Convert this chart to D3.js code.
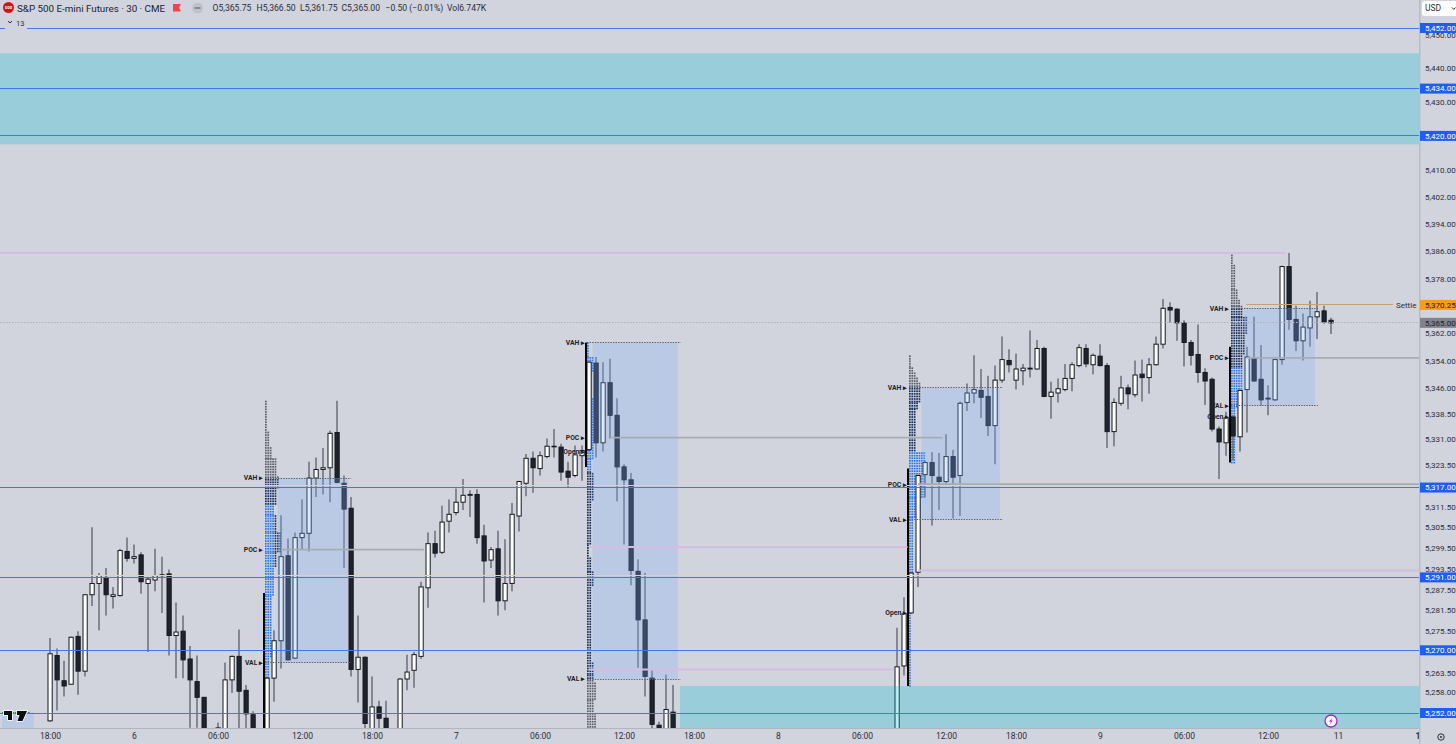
<!DOCTYPE html>
<html lang="en">
<head>
  <meta charset="utf-8">
  <title>S&amp;P 500 E-mini Futures 30m</title>
  <script src="https://d3js.org/d3.v7.min.js"></script>
  <style type="text/css">
    html, body { margin: 0; padding: 0; background: #d1d4dc; overflow: hidden; }
    svg { display: block; font-family: Roboto, "Liberation Sans", sans-serif; }
  </style>
</head>
<body>
  <script type="text/javascript">

// bars are [slot, open, high, low, close], one slot = one 30 minute bar
const session6 = [
  [0,5249.75,5273.5,5249.5,5269],[1,5268.5,5270.5,5252.75,5261.5],[2,5261.25,5267,5256.75,5259.75],
  [3,5260.25,5274,5260.25,5273.75],[4,5274,5275.5,5257.25,5264],[5,5264,5286,5262.5,5286],
  [6,5286,5305.5,5282.75,5289.25],[7,5289.25,5292.25,5275.75,5291.5],[8,5291,5293.75,5280,5286],
  [9,5285.5,5288.25,5282,5286],[10,5285.75,5299.25,5285.5,5298.75],[11,5298.5,5302.5,5295.5,5296.5],
  [12,5296.5,5300.5,5295,5297],[13,5297.5,5298.25,5286.25,5289.75],[14,5289.25,5291,5269.5,5290.5],
  [15,5290.25,5299.25,5287,5291.5],[16,5291.75,5297,5280.75,5291.5],[17,5292,5293.25,5268.5,5274.25],
  [18,5274.25,5283.75,5262,5275.25],[19,5275.5,5280,5262,5267.25],[20,5267.5,5271.25,5247.75,5261.5],
  [21,5261,5268.5,5247.75,5256.5],[22,5256.5,5256.5,5243,5246],[24,5245,5249.25,5243,5247.75],
  [25,5246,5266.5,5244,5261.5],[26,5261.5,5268.5,5257.75,5268.25],[27,5268.25,5276,5247,5258.25],
  [28,5258.5,5260,5247,5251.75],[29,5251.5,5252.5,5244,5246],[31,5246,5262.25,5244,5262],
  [32,5262,5275.75,5255.25,5272.75],[33,5272.75,5309,5264.75,5297],[34,5297.25,5302.25,5267,5267.25],
  [35,5267.75,5304,5267.5,5302.5],[36,5302.5,5313.5,5299,5303.75],[37,5303.75,5324.5,5298.5,5319.75],
  [38,5319.75,5325.75,5314.25,5322.25],[39,5322.25,5328.5,5315,5322.75],[40,5322.75,5333.5,5312.75,5332.75],
  [41,5333,5342.25,5318.25,5318.5],[42,5318.25,5320.5,5293.75,5310.75],[43,5311,5314.25,5262.5,5264.5],
  [44,5264.5,5280,5255,5268],[45,5268,5268.25,5247.5,5249]
];

const session7 = [
  [46,5246,5262.5,5244,5253.75],[47,5253.75,5255.5,5247.5,5250.5],[48,5250.5,5255.5,5244,5246],
  [50,5246,5262,5244,5261.75],[51,5261.75,5268.75,5258.5,5263.75],[52,5264.25,5269.5,5259.25,5268.75],
  [53,5268.25,5289.75,5267.5,5288.25],[54,5288,5304,5282.25,5300.75],[55,5300.75,5304.5,5296.75,5298],
  [56,5298.25,5311.75,5297.75,5307],[57,5307.25,5313.5,5304,5309.25],[58,5309.75,5316.75,5309,5312.75],
  [59,5312.75,5319.5,5310.5,5314.75],[60,5314.75,5316.25,5308.5,5315],[61,5315,5316.5,5300.75,5302.5],
  [62,5303,5306.25,5283.75,5295.75],[63,5296,5299.75,5293.75,5299],[64,5299.25,5304.5,5280,5284.25],
  [65,5284.25,5302,5281.5,5289.25],[66,5289.25,5312.5,5287,5309.25],[67,5308.75,5319,5304.25,5318.75],
  [68,5318.25,5326.75,5314.5,5325.5],[69,5325.5,5327.5,5315.5,5322.75],[70,5322.5,5327.5,5320.5,5326.25],
  [71,5326,5331.25,5325.5,5329],[72,5329,5334,5325.75,5329],[73,5328.75,5329.75,5319,5321.5],
  [74,5321.75,5324.5,5317,5320],[75,5320.5,5329.25,5320,5326.5],[76,5326.25,5329.25,5319,5327.75],
  [77,5328,5353.75,5327.5,5353.5],[78,5353.25,5355,5325.75,5330],[79,5330,5353.5,5327.5,5347.5],
  [80,5347.5,5354.5,5331.25,5338],[81,5338,5343,5313,5323],[82,5323,5323.75,5300.5,5319.25],
  [83,5319.25,5321.25,5288.75,5293],[84,5292.75,5296.25,5265,5278.75],[85,5278.75,5292.25,5256.75,5262.5],
  [86,5262,5264.25,5247,5248.75],[87,5248.5,5249.5,5244,5246],[88,5246,5263,5244,5253],
  [89,5252.25,5260,5244,5246]
];

const session8 = [
  [121,5246,5276.5,5244,5265.25],[122,5265.5,5285.25,5262.75,5280.5],[123,5280.75,5292.5,5280.5,5292.25],
  [124,5292.5,5320.75,5288.25,5320.5],[125,5320.75,5324.75,5314.25,5324.25],[126,5324.25,5327.25,5306,5320.5],
  [127,5320,5327,5310.5,5318.75],[128,5318.75,5332.5,5317.75,5326],[129,5326,5328,5308,5320],
  [130,5320.5,5342,5308.75,5341.5],[131,5341.75,5347.25,5339.25,5344.5],[132,5344.5,5355.5,5341.5,5345.5],
  [133,5345.25,5351.5,5337.25,5343.25],[134,5343.5,5349.5,5332,5335],[135,5335,5352.5,5323.75,5348.25],
  [136,5348.25,5361,5347.5,5354.25],[137,5354,5357.25,5350.5,5352.75]
];

const session10 = [
  [138,5348.25,5356,5345.5,5351.5],[139,5351,5353,5346.75,5351.75],[140,5351.5,5362.75,5349,5351.75],
  [141,5351.5,5360,5351.25,5357.5],[142,5357.5,5358,5343.25,5343.5],[143,5343.5,5347.75,5337,5344.75],
  [144,5344.5,5348.75,5341.75,5345.75],[145,5345.5,5353,5345,5348.75],[146,5348.75,5353.5,5345,5352.75],
  [147,5352.5,5358.75,5352,5357.75],[148,5357.5,5358.75,5352,5353],[149,5352.75,5356,5350,5355.5],
  [150,5355.25,5358.75,5352.25,5352.5],[151,5352.5,5353.25,5328.5,5333.25],[152,5333.25,5343,5329,5341.75],
  [153,5341.5,5349.5,5340.75,5346],[154,5346,5347,5339.75,5344.25],[155,5344,5354,5343.25,5349.75],
  [156,5350,5354.25,5342,5349],[157,5349,5354.75,5344.25,5352.75],[158,5352.75,5361,5352.5,5358.75],
  [159,5358.75,5372,5357.5,5369.25],[160,5369.5,5371,5365,5368.75],[161,5369,5369.25,5359.75,5365],
  [162,5365,5365.75,5352.25,5359.25],[163,5359.25,5360,5352.5,5355.5],[164,5355.75,5364.5,5347.5,5350.5],
  [165,5350.5,5351.75,5341,5348],[166,5348.5,5349,5333.25,5334],[167,5334,5334.75,5319.5,5330.25],
  [168,5330,5339,5326.25,5337.25],[169,5337.5,5338,5325,5332],[170,5331.75,5345.5,5327.5,5345.25],
  [171,5345.5,5358,5333,5355],[172,5354.75,5366.75,5347.75,5348],[173,5348.5,5358.5,5340.75,5342.5],
  [174,5343,5346.75,5338,5342.75],[175,5342.5,5354.5,5342.25,5354.25],[176,5354.25,5381.75,5352.75,5381.5],
  [177,5381.5,5385.5,5363,5366],[178,5366,5370,5356.75,5359.75],[179,5359.75,5367.75,5354,5363.75],
  [180,5363.5,5371.5,5358,5366.75],[181,5366.75,5374,5360.25,5368.25],[182,5368.5,5370,5364.75,5365.25],
  [183,5365.75,5366.5,5361.75,5365]
];

// volume profile rows: [high, low, dots in the row]
const profile6 = [[5342.25,5333.25,1],[5333.25,5328.75,2],[5328.75,5325.5,3],[5325.5,5320.25,5],[5320.25,5317,6],
  [5317,5311.75,5],[5311.75,5309,4],[5309,5304,5],[5304,5298.25,7],[5298.25,5293.75,5],[5293.75,5285.75,4],
  [5285.75,5267.75,3],[5267.75,5261.5,2]];
const profile7 = [[5359.25,5355,1],[5355,5350.5,3],[5350.5,5343,2],[5343,5330.25,5],[5330.25,5325.5,3],
  [5325.5,5321.25,2],[5321.25,5313,3],[5313,5300.5,2],[5300.5,5296.75,1],[5296.75,5292.75,2],[5292.75,5288.25,3],
  [5288.25,5266.5,2],[5266.5,5263,3],[5263,5260.75,3],[5260.75,5255.75,4],[5255.75,5252,3],[5252,5247.75,4]];
const profile8 = [[5355.5,5352,1],[5352,5350.5,2],[5350.5,5349,3],[5349,5347.5,4],[5347.5,5341.75,5],[5341.75,5340,4],
  [5340,5331.75,3],[5331.75,5327.25,3],[5327.25,5314,7],[5314,5308.5,5],[5308.5,5292.25,2],[5292.25,5259.75,1]];
const profile10 = [[5385.75,5382,1],[5382,5374.75,2],[5374.75,5371.75,3],[5371.75,5370,4],[5370,5366.75,5],
  [5366.75,5361.5,7],[5361.5,5355.5,6],[5355.5,5352,5],[5352,5340.25,5],[5340.25,5324.25,2]];

const sessionSlots = [31, 77, 123, 169];
const boxStartSlots = [32.5, 77.5, 124.5, 170.5];
const boxEndSlots = [42.6, 89.7, 135.7, 180.7];
const vahPrices = [5319.75, 5359.25, 5346, 5369.25];
const pocPrices = [5299, 5331.5, 5318, 5354.75];
const valPrices = [5266.5, 5261.75, 5307.75, 5340.75];
const openPrices = [null, 5327.5, 5280.75, 5337.5];
const openBarTops = [5286.5, 5359.25, 5322.5, 5358];
const openBarBottoms = [5240, 5323, 5259.75, 5324.25];
const blueHighs = [5312, 5359.25, 5327.25, 5352];
const blueLows = [5261.5, 5322, 5259.75, 5324.25];
const blueDots = [4, 9, 7, 5];

const blueLevels = [5452, 5434, 5420, 5317, 5291, 5270, 5252];
const tanLevels = [5317.25, 5291.25];
const demandZones = [[5444.5, 5417.5, -8], [5259.75, 5240, 90]];
// [price, fromSlot, toSlot]
const pinkLines = [[5385.5, -8, 176.4], [5299.75, 77, 122.5], [5293, 124, 197], [5264.5, 77, 120.5]];
const pocLines = [[5299, 33, 53.4], [5331.5, 80, 127.5], [5318, 124, 197], [5354.75, 171, 197]];
const settlePrice = 5370.25;
const lastPrice = 5365;

const priceTicks = [5450,5440,5430,5410,5402,5394,5386,5378,5362,5354,5346,5338.5,5331,5323.5,5311.5,5305.5,5299.5,5293.5,5287.5,5281.5,5275.5,5263.5,5258,5252.75];
const timeSlots = [0,12,24,36,46,58,70,82,92,104,116,128,138,150,162,174,184,195.7];
const timeLabels = ["18:00","6","06:00","12:00","18:00","7","06:00","12:00","18:00","8","06:00","12:00","18:00","9","06:00","12:00","11","12"];
const legendValues = ["O5,365.75","H5,366.50","L5,361.75","C5,365.00","\u22120.50 (\u22120.01%)","Vol6.747K"];
const legendStarts = [212.5, 256.5, 300, 341.5, 385.5, 447];

const width = 1456, height = 744;
const plotRight = 1419, plotBottom = 728;
const boxFill = "rgb(125,175,255)", boxAlpha = 0.28;

const svg = d3.select("body").append("svg")
    .attr("width", width)
    .attr("height", height);

const defs = svg.append("defs");
defs.append("clipPath").attr("id", "plot")
  .append("rect").attr("width", plotRight).attr("height", plotBottom);
defs.append("clipPath").attr("id", "timeClip")
  .append("rect").attr("width", plotRight).attr("height", 16);

svg.append("rect").attr("width", width).attr("height", height).attr("fill", "#d1d4dc");

const x = d3.scaleLinear().domain([0, 184]).range([50, 1338]);
const y = d3.scaleLog().domain([5252, 5452]).range([713, 28]);
const crisp = v => Math.round(v - 0.5) + 0.5;

const plot = svg.append("g").attr("clip-path", "url(#plot)");

// volume profile dots go under the candles
const dotPitchX = 2.4, rowStep = 0.75;
[profile6, profile7, profile8, profile10].forEach((rows, s) => {
  const dots = [];
  rows.forEach(r => {
    d3.range(r[0], r[1], -rowStep).forEach(p => {
      d3.range(r[2]).forEach(col => dots.push({p, col}));
    });
  });
  plot.append("g").selectAll("rect")
    .data(dots)
    .join("rect")
      .attr("x", d => x(sessionSlots[s]) - 2 + d.col * dotPitchX)
      .attr("y", d => y(d.p))
      .attr("width", 1.7)
      .attr("height", 1.7)
      .attr("fill", d => {
        if (d.p <= blueHighs[s] && d.p >= blueLows[s] && d.col < blueDots[s]) return "#2b78ee";
        if (d.p <= vahPrices[s] && d.p >= valPrices[s]) return "#17305f";
        return "#5d606b";
      });
});

// candles
const bars = session6.concat(session7, session8, session10);

plot.append("g").selectAll("line")
  .data(bars)
  .join("line")
    .attr("x1", d => x(d[0]))
    .attr("x2", d => x(d[0]))
    .attr("y1", d => y(d[2]))
    .attr("y2", d => y(d[3]))
    .attr("stroke", "#5c5e67")
    .attr("stroke-width", 1.3);

plot.append("g").selectAll("rect")
  .data(bars)
  .join("rect")
    .attr("x", d => x(d[0]) - 2)
    .attr("width", 4.2)
    .attr("y", d => y(Math.max(d[1], d[4])))
    .attr("height", d => Math.max(0.6, Math.abs(y(d[1]) - y(d[4]))))
    .attr("fill", d => d[4] >= d[1] ? "#ffffff" : "#1f232e")
    .attr("stroke", "#15181f")
    .attr("stroke-width", 1);

// thick bar left of each session open
plot.append("g").selectAll("line")
  .data(sessionSlots)
  .join("line")
    .attr("x1", d => x(d) - 3)
    .attr("x2", d => x(d) - 3)
    .attr("y1", (d, i) => y(openBarTops[i]))
    .attr("y2", (d, i) => y(openBarBottoms[i]))
    .attr("stroke", "#050505")
    .attr("stroke-width", 2);

// value area boxes
plot.append("g").selectAll("rect")
  .data(sessionSlots)
  .join("rect")
    .attr("x", (d, i) => x(boxStartSlots[i]))
    .attr("width", (d, i) => x(boxEndSlots[i]) - x(boxStartSlots[i]))
    .attr("y", (d, i) => y(vahPrices[i]))
    .attr("height", (d, i) => y(valPrices[i]) - y(vahPrices[i]))
    .attr("fill", boxFill)
    .attr("fill-opacity", boxAlpha);

// tail of the previous session box behind the logo
plot.append("rect")
    .attr("x", x(-6.85)).attr("width", x(-2.3) - x(-6.85))
    .attr("y", y(5252.25)).attr("height", y(5240) - y(5252.25))
    .attr("fill", boxFill).attr("fill-opacity", boxAlpha);

const dotted = vahPrices.concat(valPrices).map((p, i) => {
  const s = i % 4;
  return {p, from: x(sessionSlots[s]) - 2, to: x(boxEndSlots[s]) + 3};
});
dotted.push({p: 5252.25, from: x(-6.85), to: x(-2.9)});
plot.append("g").selectAll("line")
  .data(dotted)
  .join("line")
    .attr("x1", d => d.from)
    .attr("x2", d => d.to)
    .attr("y1", d => crisp(y(d.p)))
    .attr("y2", d => crisp(y(d.p)))
    .attr("stroke", "#5f6168")
    .attr("stroke-width", 1)
    .attr("stroke-dasharray", "1.4 1.2");

// teal zones
plot.append("g").selectAll("rect")
  .data(demandZones)
  .join("rect")
    .attr("x", d => x(d[2]))
    .attr("width", d => plotRight - x(d[2]))
    .attr("y", d => y(d[0]))
    .attr("height", d => y(d[1]) - y(d[0]))
    .attr("fill", "rgb(0,188,212)")
    .attr("fill-opacity", 0.27);

// current price
plot.append("line")
    .attr("x1", 0).attr("x2", plotRight)
    .attr("y1", crisp(y(lastPrice))).attr("y2", crisp(y(lastPrice)))
    .attr("stroke", "#aeb1ba").attr("stroke-width", 1).attr("stroke-dasharray", "1.5 1.5");

function levelLines(data, colour, w) {
  plot.append("g").selectAll("line")
    .data(data)
    .join("line")
      .attr("x1", d => x(d[1]))
      .attr("x2", d => x(d[2]))
      .attr("y1", d => y(d[0]))
      .attr("y2", d => y(d[0]))
      .attr("stroke", colour)
      .attr("stroke-width", w);
}
levelLines(pinkLines, "#d8bbe2", 2);
levelLines(pocLines, "#a9abb3", 1.8);

plot.append("g").selectAll("line")
  .data(tanLevels)
  .join("line")
    .attr("x1", 0).attr("x2", plotRight)
    .attr("y1", d => crisp(y(d)) - 1)
    .attr("y2", d => crisp(y(d)) - 1)
    .attr("stroke", "#dcd2b6").attr("stroke-width", 1);

plot.append("g").selectAll("line")
  .data(blueLevels)
  .join("line")
    .attr("x1", 0).attr("x2", plotRight)
    .attr("y1", d => crisp(y(d)))
    .attr("y2", d => crisp(y(d)))
    .attr("stroke", "#3f79f2").attr("stroke-width", 1);

// settle line
plot.append("line")
    .attr("x1", x(170.9)).attr("x2", 1393)
    .attr("y1", crisp(y(settlePrice))).attr("y2", crisp(y(settlePrice)))
    .attr("stroke", "#c9a06a").attr("stroke-width", 1);
plot.append("text")
    .attr("x", 1396).attr("y", y(settlePrice) + 3.5)
    .attr("font-size", 8).attr("fill", "#2a2e39")
    .text("Settle");

// VAH / POC / VAL / Open tags
const tags = [];
sessionSlots.forEach((slot, i) => {
  tags.push({slot, p: vahPrices[i], t: "VAH"});
  tags.push({slot, p: pocPrices[i], t: "POC"});
  tags.push({slot, p: valPrices[i], t: "VAL"});
  if (openPrices[i]) tags.push({slot, p: openPrices[i], t: "Open"});
});
plot.append("g").selectAll("text")
  .data(tags)
  .join("text")
    .attr("x", d => x(d.slot) - 4)
    .attr("y", d => y(d.p) + 2.4)
    .attr("text-anchor", "end")
    .attr("font-size", 6.8)
    .attr("font-weight", 700)
    .attr("fill", "#1c1f28")
    .text(d => d.t + " \u25B8");

// logo
const logo = svg.append("g").attr("transform", "translate(4,711)");
logo.append("path")
    .attr("d", "M0 0H8V9H4V4H0Z M15.5 0H23L18.5 10H13.5L15.5 4H13V0Z")
    .attr("fill", "#0d0d0d").attr("stroke", "#ffffff").attr("stroke-width", 1.6)
    .attr("paint-order", "stroke");

// alert icon
const bolt = svg.append("g").attr("transform", "translate(1331,721)");
bolt.append("circle").attr("r", 6).attr("fill", "#ffffff").attr("stroke", "#a12cc4").attr("stroke-width", 1.3);
bolt.append("path").attr("d", "M1.6 -3.6L-2 0.6H0L-1.6 3.6L2 -0.6H0Z").attr("fill", "#a12cc4");

// pane borders
svg.append("rect").attr("x", 0).attr("y", plotBottom).attr("width", plotRight).attr("height", 1).attr("fill", "#b2b5bd");
svg.append("rect").attr("x", plotRight).attr("y", 0).attr("width", 1.5).attr("height", height).attr("fill", "#b9bcc4");

// price axis
const yAxis = d3.axisRight(y)
    .tickValues(priceTicks)
    .tickFormat(d3.format(",.2f"))
    .tickSize(0)
    .tickPadding(5);
const priceAxis = svg.append("g")
    .attr("transform", `translate(${plotRight + 1},0)`)
    .call(yAxis);
priceAxis.select(".domain").remove();
priceAxis.selectAll("text").attr("font-size", 8).attr("font-family", "Roboto").attr("fill", "#2a2e39");

// price badges
const badges = blueLevels.map(p => ({p, bg: "#1f5ef5", fg: "#ffffff"}));
badges.push({p: settlePrice, bg: "#f89b17", fg: "#1f2228"});
badges.push({p: lastPrice, bg: "#80838c", fg: "#1f2228"});
const badge = svg.append("g").selectAll("g")
  .data(badges)
  .join("g")
    .attr("transform", d => `translate(${plotRight + 1},${y(d.p)})`);
badge.append("rect")
    .attr("y", -5)
    .attr("width", 37)
    .attr("height", 10)
    .attr("fill", d => d.bg);
badge.append("text")
    .attr("x", 5)
    .attr("dy", "0.34em")
    .attr("font-size", 8)
    .attr("fill", d => d.fg)
    .text(d => d3.format(",.2f")(d.p));

// time axis, the last label runs under the price pane
const xAxis = d3.axisBottom(x)
    .tickValues(timeSlots)
    .tickFormat((d, i) => timeLabels[i])
    .tickSize(0)
    .tickPadding(5);
const timeAxis = svg.append("g")
    .attr("transform", `translate(0,${plotBottom})`)
    .attr("clip-path", "url(#timeClip)")
    .call(xAxis);
timeAxis.select(".domain").remove();
timeAxis.selectAll("text").attr("font-size", 8.5).attr("font-family", "Roboto").attr("fill", "#2a2e39");
timeAxis.selectAll(".tick")
    .filter(d => d === 195.7)
    .select("text")
    .attr("font-weight", 700);

// gear icon
svg.append("circle").attr("cx", 1441).attr("cy", 737).attr("r", 3.2)
    .attr("fill", "none").attr("stroke", "#2a2e39").attr("stroke-width", 1);
svg.append("circle").attr("cx", 1441).attr("cy", 737).attr("r", 1).attr("fill", "#2a2e39");

// USD button
svg.append("rect").attr("x", 1422).attr("y", 1).attr("width", 40).attr("height", 15).attr("rx", 3).attr("fill", "#ffffff");
svg.append("text").attr("x", 1425).attr("y", 11).attr("font-size", 8.5).attr("fill", "#2a2e39").text("USD");
svg.append("path").attr("d", "M1452 7.5l1.8 1.8 1.8-1.8").attr("fill", "none").attr("stroke", "#2a2e39");

// legend, top left
svg.append("rect").attr("x", 5).attr("y", 16).attr("width", 22).attr("height", 13).attr("fill", "#d1d4dc");
svg.append("path").attr("d", "M8 21l2 2 2-2").attr("fill", "none").attr("stroke", "#2a2e39");
svg.append("text").attr("x", 16).attr("y", 25.5).attr("font-size", 7.5).attr("fill", "#2a2e39").text("13");

svg.append("circle").attr("cx", 8.5).attr("cy", 7.5).attr("r", 5.5).attr("fill", "#d4101c");
svg.append("text").attr("x", 8.5).attr("y", 9.3).attr("text-anchor", "middle")
    .attr("font-size", 4.4).attr("font-weight", 700).attr("fill", "#ffffff").text("500");
svg.append("text").attr("x", 17).attr("y", 11.5).attr("font-size", 9.8).attr("fill", "#20242e")
    .text("S&P 500 E-mini Futures \u00B7 30 \u00B7 CME");
svg.append("path").attr("d", "M173 4H181L179 7.5L181 11.5H173Z").attr("fill", "#f0444a");
svg.append("circle").attr("cx", 197.5).attr("cy", 8).attr("r", 5.5).attr("fill", "#bfc2ca");
svg.append("rect").attr("x", 194.5).attr("y", 7.2).attr("width", 6).attr("height", 1.6).attr("fill", "#7a7d86");

svg.append("g").selectAll("text")
  .data(legendValues)
  .join("text")
    .attr("x", (d, i) => legendStarts[i])
    .attr("y", 11)
    .attr("font-size", 8.6)
    .attr("fill", "#2a2e39")
    .text(d => d);

  </script>
</body>
</html>
